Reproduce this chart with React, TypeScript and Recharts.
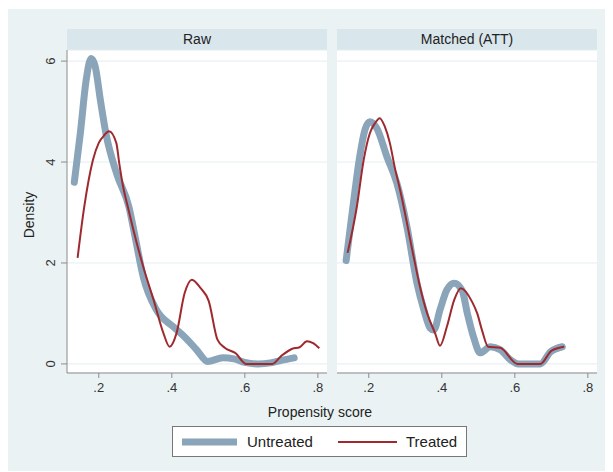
import React from 'react';
import { LineChart, Line, XAxis, YAxis, CartesianGrid } from 'recharts';

// kernel density estimates, [propensity, density]
const rawUntreated = [
  [0.133, 3.6], [0.15, 4.6], [0.165, 5.6], [0.179, 6.05], [0.19, 5.9], [0.205, 5.2],
  [0.22, 4.55], [0.25, 3.75], [0.283, 3.1], [0.3, 2.5], [0.322, 1.72], [0.358, 1.07],
  [0.405, 0.73], [0.44, 0.5], [0.468, 0.28], [0.498, 0.05], [0.54, 0.12], [0.57, 0.1],
  [0.6, 0.03], [0.636, 0.0], [0.67, 0.02], [0.7, 0.07], [0.735, 0.12],
];
const rawTreated = [
  [0.142, 2.1], [0.16, 3.1], [0.184, 4.04], [0.2, 4.38], [0.215, 4.53], [0.228, 4.61],
  [0.248, 4.38], [0.256, 3.98], [0.267, 3.5], [0.28, 3.1], [0.295, 2.65], [0.322, 1.92],
  [0.35, 1.27], [0.377, 0.61], [0.394, 0.34], [0.413, 0.61], [0.435, 1.4], [0.455, 1.67],
  [0.479, 1.5], [0.501, 1.25], [0.525, 0.48], [0.545, 0.32], [0.575, 0.21], [0.603, 0.0],
  [0.675, 0.0], [0.7, 0.16], [0.73, 0.3], [0.75, 0.33], [0.77, 0.45], [0.787, 0.41],
  [0.804, 0.31],
];
const matchedUntreated = [
  [0.138, 2.05], [0.159, 3.25], [0.175, 4.1], [0.19, 4.65], [0.203, 4.8], [0.222, 4.67],
  [0.25, 4.1], [0.277, 3.58], [0.305, 2.7], [0.332, 1.6], [0.351, 1.07], [0.368, 0.71],
  [0.378, 0.67], [0.395, 1.07], [0.414, 1.47], [0.434, 1.6], [0.456, 1.45], [0.47, 1.0],
  [0.487, 0.53], [0.505, 0.22], [0.533, 0.34], [0.56, 0.28], [0.588, 0.08], [0.61, 0.0],
  [0.67, 0.0], [0.698, 0.24], [0.73, 0.34],
];
const matchedTreated = [
  [0.142, 2.2], [0.167, 3.1], [0.186, 4.04], [0.203, 4.57], [0.217, 4.77], [0.23, 4.87],
  [0.244, 4.7], [0.258, 4.37], [0.271, 3.9], [0.286, 3.44], [0.323, 2.12], [0.338, 1.6],
  [0.36, 1.0], [0.382, 0.6], [0.395, 0.36], [0.414, 0.74], [0.434, 1.27], [0.452, 1.5],
  [0.483, 1.23], [0.497, 1.0], [0.51, 0.67], [0.527, 0.34], [0.56, 0.32], [0.607, 0.0],
  [0.67, 0.0], [0.7, 0.26], [0.735, 0.34],
];

const xTicks = [0.2, 0.4, 0.6, 0.8];
const yTicks = [0, 2, 4, 6];
const panelTitles = ['Raw', 'Matched (ATT)'];
const seriesNames = ['Untreated', 'Treated'];

const BLUE = '#8aa4b9';
const RED = '#9e2a2f';
const AXIS = '#8c8c8c';
const FONT = '"Liberation Sans", Arial, sans-serif';

const toRows = (pts: number[][]) => pts.map(([x, y]) => ({ x, y }));

const fmtX = (v: number) => v.toFixed(1).replace(/^0/, '');

const YTick = (props: any) => {
  const { x, y, payload } = props;
  const tx = x - 9;
  return (
    <text x={tx} y={y} dy="0.35em" textAnchor="middle" fontSize={13} fill="#333"
      transform={`rotate(-90 ${tx} ${y})`} fontFamily={FONT}>
      {payload.value}
    </text>
  );
};

const Panel = ({ untreated, treated, showY, width, margin }: any) => (
  <LineChart width={width} height={400} margin={margin}>
    <CartesianGrid vertical={false} stroke="#e3edf0" fill="#ffffff" fillOpacity={1} />
    <XAxis type="number" dataKey="x" domain={[0.113, 0.825]} ticks={xTicks} tickFormatter={fmtX}
      allowDataOverflow stroke={AXIS} tickSize={5} tickMargin={5} height={30}
      tick={{ fill: '#333', fontSize: 13, fontFamily: FONT }} />
    <YAxis type="number" domain={[-0.18, 6.22]} ticks={yTicks} allowDataOverflow
      hide={!showY} width={59} stroke={AXIS} tickSize={6} tickMargin={2} tick={<YTick />} />
    <Line data={toRows(untreated)} dataKey="y" type="monotone" stroke={BLUE} strokeWidth={7}
      strokeLinecap="round" strokeLinejoin="round" dot={false} isAnimationActive={false} />
    <Line data={toRows(treated)} dataKey="y" type="monotone" stroke={RED} strokeWidth={2}
      dot={false} isAnimationActive={false} />
  </LineChart>
);

const strip: React.CSSProperties = {
  position: 'absolute', top: 20, height: 21, background: '#d9e6ec', color: '#222',
  fontSize: 14, lineHeight: '21px', textAlign: 'center', fontFamily: FONT,
};

export default function App() {
  return (
    <div style={{ position: 'relative', width: 597, height: 462, marginTop: 1, background: '#eaf2f3', fontFamily: FONT }}>
      <div style={{ ...strip, left: 59, width: 260 }}>{panelTitles[0]}</div>
      <div style={{ ...strip, left: 329, width: 260 }}>{panelTitles[1]}</div>

      <div style={{ position: 'absolute', left: 0, top: 0 }}>
        <Panel untreated={rawUntreated} treated={rawTreated} showY width={325}
          margin={{ top: 41, right: 6, left: 0, bottom: 6 }} />
      </div>
      <div style={{ position: 'absolute', left: 323, top: 0 }}>
        <Panel untreated={matchedUntreated} treated={matchedTreated} showY={false} width={272}
          margin={{ top: 41, right: 6, left: 6, bottom: 6 }} />
      </div>

      <div style={{ position: 'absolute', left: 21, top: 206, transform: 'translate(-50%, -50%) rotate(-90deg)',
        fontSize: 14, color: '#222', whiteSpace: 'nowrap' }}>Density</div>
      <div style={{ position: 'absolute', left: 312, top: 403, transform: 'translate(-50%, -50%)',
        fontSize: 14, color: '#222', whiteSpace: 'nowrap' }}>Propensity score</div>

      <div style={{ position: 'absolute', left: 164, top: 417, width: 293, height: 29, background: '#fff',
        border: '1px solid #777' }}>
        <svg width={293} height={29} style={{ position: 'absolute', left: 0, top: 0 }}>
          <line x1={9} x2={64} y1={15} y2={15} stroke={BLUE} strokeWidth={7} />
          <line x1={165} x2={224} y1={15} y2={15} stroke={RED} strokeWidth={2} />
          <text x={74} y={20} fontSize={15} fill="#222" fontFamily={FONT}>{seriesNames[0]}</text>
          <text x={233} y={20} fontSize={15} fill="#222" fontFamily={FONT}>{seriesNames[1]}</text>
        </svg>
      </div>
    </div>
  );
}
